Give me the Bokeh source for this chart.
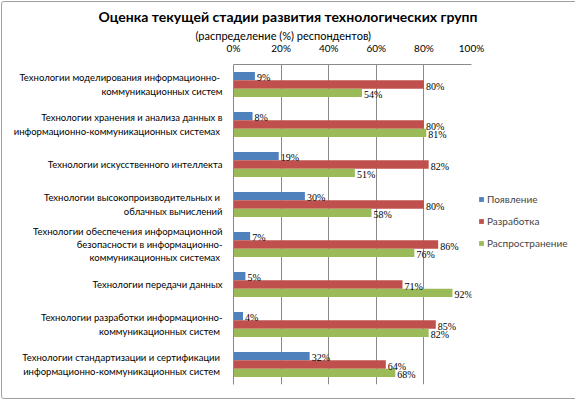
from bokeh.plotting import figure
from bokeh.models import (FactorRange, FixedTicker, PrintfTickFormatter, Title,
                          Legend, LegendItem, ColumnDataSource, InlineStyleSheet)
from bokeh.transform import dodge
from bokeh.embed import file_html
from bokeh.resources import INLINE

categories = [
    "Технологии моделирования  информационно-\nкоммуникационных систем",
    "Технологии хранения и анализа данных в\nинформационно-коммуникационных  системах",
    "Технологии искусственного интеллекта",
    "Технологии высокопроизводительных  и\nоблачных вычислений",
    "Технологии обеспечения информационной\nбезопасности в информационно-\nкоммуникационных  системах",
    "Технологии передачи данных",
    "Технологии разработки информационно-\nкоммуникационных  систем",
    "Технологии стандартизации  и сертификации\nинформационно-коммуникационных  систем",
]
series_names = ["Появление", "Разработка", "Распространение"]
appearance = [9, 8, 19, 30, 7, 5, 4, 32]
development = [80, 80, 82, 80, 86, 71, 85, 64]
spread = [54, 81, 51, 58, 76, 92, 82, 68]
x_ticks = [0, 20, 40, 60, 80, 100]
title_text = "Оценка текущей стадии развития технологических групп"
subtitle_text = "(распределение (%) респондентов)"

colors = ["#4F81BD", "#C0504D", "#9BBB59"]
FONT = "Lato"
GRID = "#8a8a8a"

p = figure(frame_width=238, frame_height=320, output_backend="svg", toolbar_location=None,
           y_range=FactorRange(factors=list(reversed(categories)), range_padding=0),
           x_range=(0, 100), x_axis_location="above",
           min_border_left=233, min_border_right=104, min_border_top=64, min_border_bottom=17)
p.outline_line_color = None
p.background_fill_color = "white"
p.border_fill_color = "white"
p.stylesheets = [InlineStyleSheet(css=(
    ":host { position: relative; }"
    ":host::after { content: ''; position: absolute; left: 1px; top: 1px; right: 1px; bottom: 2px;"
    " border: 1px solid #a0a0a0; border-radius: 3px; pointer-events: none; z-index: 1000; }"))]

# titles
p.title.text = title_text
p.title.align = "left"
p.title.offset = -135
p.title.standoff = 10
p.title.text_font = FONT
p.title.text_font_size = "14px"
p.title.text_font_style = "bold"
p.title.text_color = "#000000"

sub = Title(text=subtitle_text, align="left", offset=-38, standoff=-6,
            text_font=FONT, text_font_size="11px", text_font_style="normal",
            text_color="#000000", text_line_height=0.9)
p.add_layout(sub, "above")

# axes
xa = p.xaxis[0]
xa.ticker = FixedTicker(ticks=x_ticks)
xa.formatter = PrintfTickFormatter(format="%d%%")
xa.major_tick_in = 0
xa.major_tick_out = 0
xa.minor_tick_in = 0
xa.minor_tick_out = 0
xa.axis_line_color = GRID
xa.major_label_standoff = 11
xa.major_label_text_font = FONT
xa.major_label_text_font_size = "10px"
xa.major_label_text_color = "#000000"

ya = p.yaxis[0]
ya.major_tick_in = 0
ya.major_tick_out = 0
ya.axis_line_color = GRID
ya.major_label_standoff = 11
ya.major_label_text_font = FONT
ya.major_label_text_font_size = "9.5px"
ya.major_label_text_color = "#000000"

p.xgrid.grid_line_color = GRID
p.xgrid.ticker = FixedTicker(ticks=x_ticks)
p.ygrid.grid_line_color = None

src = ColumnDataSource(dict(cat=categories, a=appearance, d=development, s=spread,
                            al=[f"{v}%" for v in appearance],
                            dl=[f"{v}%" for v in development],
                            sl=[f"{v}%" for v in spread]))

bh = 0.21
offsets = [bh, 0.0, -bh]
renderers = []
for col, off, c in zip(["a", "d", "s"], offsets, colors):
    r = p.hbar(y=dodge("cat", off, range=p.y_range), right=col, left=0, height=bh,
               source=src, fill_color=c, line_color=None)
    renderers.append(r)
for col, lab, off in zip(["a", "d", "s"], ["al", "dl", "sl"], offsets):
    p.text(x=col, y=dodge("cat", off, range=p.y_range), text=lab, source=src,
           x_offset=2, y_offset=1.5, text_baseline="middle", text_align="left",
           text_font=FONT, text_font_size="10px", text_color="#000000")

legend = Legend(items=[LegendItem(label=n, renderers=[r]) for n, r in zip(series_names, renderers)],
                location=(7, 135), glyph_width=6, glyph_height=6, label_standoff=3,
                spacing=10, padding=0, margin=0, border_line_color=None,
                background_fill_alpha=0, label_text_font=FONT, label_text_font_size="10px",
                label_height=12)
p.add_layout(legend, "right")

open("out.html", "w").write(file_html(p, INLINE))
